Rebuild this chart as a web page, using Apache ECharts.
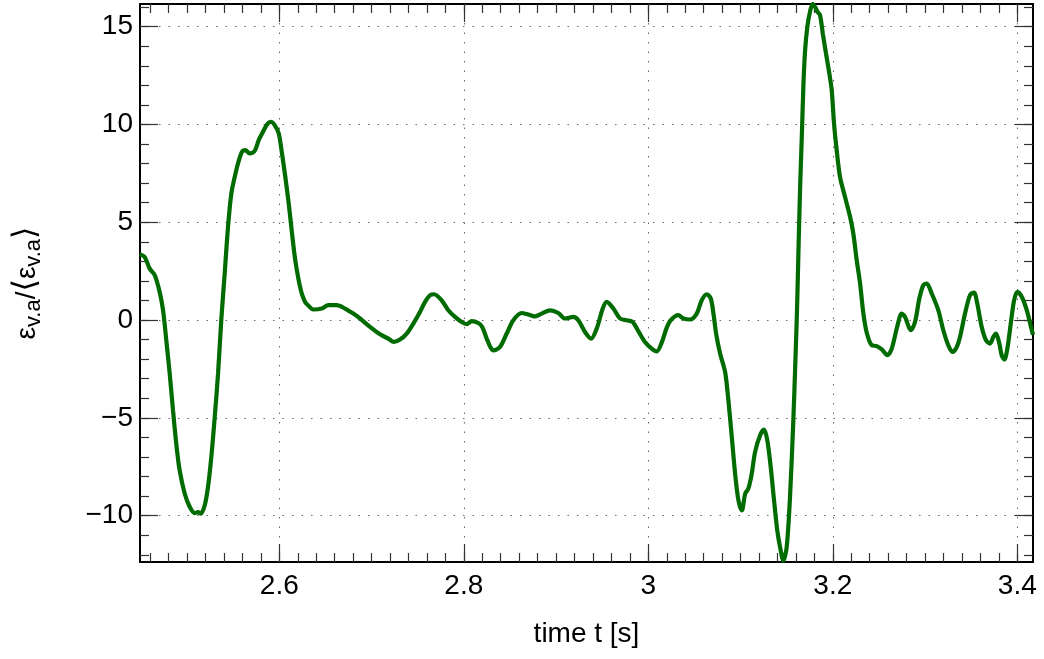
<!DOCTYPE html>
<html><head><meta charset="utf-8">
<script src="https://cdn.jsdelivr.net/npm/echarts@6/dist/echarts.min.js"></script>
<style>html,body{margin:0;padding:0;background:#fff}#c{width:1044px;height:659px}</style>
</head><body><div id="c"></div>
<script>
const timeS = [2.4487,2.454,2.4595,2.465,2.4703,2.474,2.4775,2.4812,2.4848,2.4883,2.492,2.4975,2.503,2.5083,2.5119,2.5148,2.5191,2.5227,2.5263,2.530,2.5336,2.5371,2.5408,2.5444,2.548,2.5517,2.5552,2.5596,2.5631,2.5679,2.5733,2.5777,2.5823,2.587,2.5907,2.595,2.5994,2.6029,2.6065,2.6102,2.6138,2.6173,2.621,2.6243,2.6279,2.630,2.6369,2.646,2.6531,2.6622,2.6712,2.6802,2.6875,2.6983,2.7092,2.7182,2.7243,2.7308,2.7381,2.7453,2.7525,2.758,2.7634,2.7677,2.776,2.7832,2.7905,2.7977,2.8031,2.8086,2.8157,2.820,2.8248,2.8285,2.832,2.8392,2.8465,2.8537,2.8628,2.8699,2.8772,2.8844,2.8934,2.9024,2.9097,2.9187,2.9241,2.9314,2.9379,2.9441,2.9506,2.9549,2.9621,2.9693,2.9766,2.9831,2.989,2.9964,3.0037,3.0091,3.0145,3.0199,3.0243,3.0325,3.038,3.0453,3.0525,3.0579,3.0633,3.0677,3.0706,3.0735,3.0778,3.0833,3.0868,3.0905,3.0941,3.0977,3.1014,3.105,3.1084,3.1121,3.1157,3.1211,3.1254,3.129,3.1327,3.1363,3.1398,3.1435,3.1463,3.150,3.1536,3.1572,3.1595,3.1612,3.163,3.1647,3.1665,3.1682,3.170,3.1724,3.1753,3.1782,3.1807,3.1832,3.1861,3.1891,3.1926,3.1962,3.1988,3.2013,3.2042,3.2078,3.2132,3.2187,3.2222,3.2259,3.2295,3.2331,3.2368,3.2422,3.2476,3.2531,3.2591,3.2639,3.2693,3.2747,3.2783,3.2845,3.2891,3.2938,3.2981,3.3018,3.3072,3.3144,3.3198,3.3252,3.33,3.3343,3.3379,3.3433,3.3487,3.353,3.3566,3.3614,3.3661,3.3704,3.374,3.3769,3.3805,3.3831,3.386,3.3892,3.3929,3.3965,3.4001,3.4049,3.4103,3.4157,3.417];
const ratio = [3.37,3.23,2.63,2.29,1.44,0.5,-1.03,-2.74,-4.62,-6.32,-7.69,-8.88,-9.56,-9.87,-9.82,-9.9,-9.48,-8.54,-7.0,-4.96,-2.74,0,2.38,4.76,6.47,7.32,8.0,8.6,8.69,8.52,8.65,9.2,9.63,10.02,10.14,9.97,9.54,8.52,7.32,5.96,4.43,3.06,2.04,1.36,0.93,0.81,0.54,0.59,0.76,0.76,0.59,0.33,0.08,-0.35,-0.73,-0.95,-1.12,-1.0,-0.69,-0.18,0.41,0.93,1.27,1.32,1.01,0.5,0.16,-0.1,-0.21,-0.05,-0.15,-0.35,-0.95,-1.35,-1.55,-1.38,-0.69,-0.01,0.36,0.28,0.19,0.33,0.5,0.36,0.08,0.16,-0.01,-0.61,-0.95,-0.43,0.59,0.93,0.59,0.08,-0.01,-0.1,-0.55,-1.12,-1.46,-1.6,-1.15,-0.4,-0.01,0.25,0.08,0.03,0.33,1.01,1.32,1.1,0.33,-0.69,-1.71,-2.66,-4.1,-5.98,-7.86,-9.22,-9.73,-8.88,-8.62,-7.86,-6.75,-5.9,-5.6,-6.15,-7.52,-9.22,-10.76,-11.78,-12.3,-11.61,-9.05,-5.13,-2.0,0.5,4.0,7.0,9.54,12.1,13.81,15.0,15.77,16.16,16.02,15.77,15.6,14.66,13.64,12.61,11.76,10.06,8.69,7.32,6.3,5.28,4.43,3.06,1.9,0.35,-0.65,-1.29,-1.33,-1.5,-1.8,-1.46,-0.43,0.33,0.16,-0.52,-0.1,1.1,1.78,1.87,1.36,0.5,-0.52,-1.29,-1.63,-1.38,-0.86,0.33,1.27,1.41,0.84,-0.35,-1.03,-1.2,-0.86,-0.69,-1.2,-1.8,-2.02,-1.46,-0.18,1.01,1.44,1.18,0.5,-0.52,-0.75];
const xMajorTicks = [2.6, 2.8, 3.0, 3.2, 3.4];
const yMajorTicks = [-10, -5, 0, 5, 10, 15];
const xRange = [2.449, 3.417];
const yRange = [-12.37, 16.16];
const xMinorTicks = []; for (let k = 123; k <= 170; k++) xMinorTicks.push(k / 50);
const yMinorTicks = []; for (let k = -12; k <= 16; k++) yMinorTicks.push(k);

const FONT = '"Liberation Sans", Arial, Helvetica, sans-serif';
const lineAx = {show: true, onZero: false, lineStyle: {color: '#000', width: 2}};
const noLine = {show: false, onZero: false};
const grid = {type: [1.5, 8], color: '#666', width: 1};

function ax(kind, pos, ticks, len, extra) {
  const r = kind === 'x' ? xRange : yRange;
  return Object.assign({
    type: 'value', position: pos, min: r[0], max: r[1],
    axisLine: noLine,
    axisTick: {show: true, inside: true, length: len, customValues: ticks, lineStyle: {color: '#333', width: 1.2}},
    axisLabel: {show: false},
    splitLine: {show: false}
  }, extra || {});
}

const chart = echarts.init(document.getElementById('c'), null, {renderer: 'canvas'});
chart.setOption({
  animation: false,
  backgroundColor: '#fff',
  grid: {left: 140, right: 11, top: 4, bottom: 97, containLabel: false},
  xAxis: [
    ax('x', 'bottom', xMajorTicks, 18, {
      axisLine: lineAx,
      axisLabel: {show: true, customValues: xMajorTicks, fontSize: 28, color: '#000', margin: 10, fontFamily: FONT},
      splitLine: {show: true, lineStyle: grid},
      name: 'time t [s]', nameLocation: 'middle', nameGap: 58,
      nameTextStyle: {fontSize: 28, color: '#000', fontFamily: FONT}
    }),
    ax('x', 'bottom', xMinorTicks, 9),
    ax('x', 'top', xMajorTicks, 18, {axisLine: lineAx}),
    ax('x', 'top', xMinorTicks, 9)
  ],
  yAxis: [
    ax('y', 'left', yMajorTicks, 18, {
      axisLine: lineAx,
      axisLabel: {show: true, customValues: yMajorTicks, fontSize: 28, color: '#000', margin: 7, fontFamily: FONT,
        formatter: v => String(v).replace('-', '\u2212')},
      splitLine: {show: true, lineStyle: grid},
      name: '{e|ε}{s|v.a}{e|/}{b|⟨}{e|ε}{s|v.a}{b|⟩}', nameLocation: 'middle', nameGap: 95,
      nameTextStyle: {color: '#000', fontFamily: FONT, fontSize: 28,
        rich: {
          e: {fontSize: 28, fontFamily: FONT, color: '#000'},
          s: {fontSize: 22, fontFamily: FONT, color: '#000', padding: [14, 0, 0, 0]},
          b: {fontSize: 32, fontFamily: '"DejaVu Sans", sans-serif', color: '#000'}
        }}
    }),
    ax('y', 'left', yMinorTicks, 9),
    ax('y', 'right', yMajorTicks, 18, {axisLine: lineAx}),
    ax('y', 'right', yMinorTicks, 9)
  ],
  series: [{
    type: 'line', xAxisIndex: 0, yAxisIndex: 0,
    data: timeS.map((t, i) => [t, ratio[i]]),
    showSymbol: false, smooth: 0.3, silent: true,
    lineStyle: {color: '#006b00', width: 4.2}
  }]
});
</script></body></html>
